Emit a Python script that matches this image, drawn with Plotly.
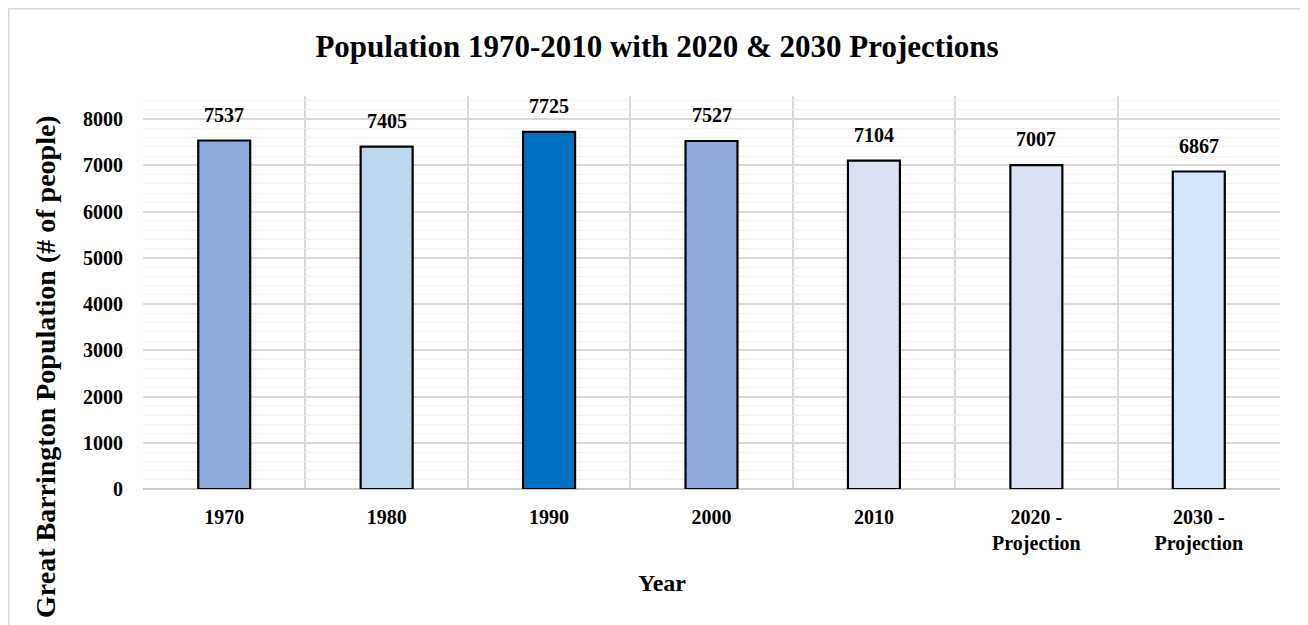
import plotly.graph_objects as go

categories = ["1970", "1980", "1990", "2000", "2010", "2020 -<br>Projection", "2030 -<br>Projection"]
population = [7537, 7405, 7725, 7527, 7104, 7007, 6867]
bar_colors = ["#8EA9DB", "#BDD7EE", "#0070C0", "#8EA9DB", "#D9E1F2", "#D9E1F2", "#D7E7FB"]
y_ticks = [0, 1000, 2000, 3000, 4000, 5000, 6000, 7000, 8000]

# page has an 8px body margin, so the figure is drawn 8px in from the window edge
OFF = 8
W, H = 1308 - OFF, 625 - OFF
L, R, T, B = 143 - OFF, 1308 - 1280, 96 - OFF, 625 - 489
PW = W - L - R
PH = H - T - B

def px_x(p):  # screen pixel -> paper x
    return (p - OFF - L) / PW

def px_y(p):  # screen pixel -> paper y
    return (H - B - (p - OFF)) / PH

FONT = "Liberation Serif"

fig = go.Figure()
fig.add_trace(go.Bar(
    x=list(range(len(categories))), y=population,
    marker=dict(color=bar_colors, line=dict(color="#000000", width=2.2)),
    width=0.32,
    hoverinfo="y",
))

for i, v in enumerate(population):
    fig.add_annotation(x=i, y=v, text=f"<b>{v}</b>", showarrow=False,
                       yshift=26, yanchor="middle", xanchor="center",
                       font=dict(family=FONT, size=20, color="#000000"))

fig.add_annotation(xref="paper", yref="paper", x=px_x(45), y=px_y(367),
                   text="<b>Great Barrington Population (# of people)</b>",
                   textangle=-90, showarrow=False, xanchor="center", yanchor="middle",
                   font=dict(family=FONT, size=28, color="#000000"))
fig.add_annotation(xref="paper", yref="paper", x=px_x(662), y=px_y(583),
                   text="<b>Year</b>", showarrow=False, xanchor="center", yanchor="middle",
                   font=dict(family=FONT, size=24, color="#000000"))

# outer chart frame
fig.add_shape(type="rect", xref="paper", yref="paper",
              x0=px_x(8.8), x1=px_x(1330), y0=px_y(660), y1=px_y(8.8),
              line=dict(color="#D9D9D9", width=1.5), fillcolor="rgba(0,0,0,0)", layer="below")

fig.update_layout(
    width=W, height=H,
    margin=dict(l=L, r=R, t=T, b=B),
    paper_bgcolor="#FFFFFF", plot_bgcolor="#FFFFFF",
    showlegend=False,
    title=dict(text="<b>Population 1970-2010 with 2020 &amp; 2030 Projections</b>",
               x=(657 - OFF) / W, xanchor="center", y=1 - (46 - OFF) / H, yanchor="middle",
               font=dict(family=FONT, size=31, color="#000000")),
    xaxis=dict(range=[-0.5, len(categories) - 0.5],
               tickvals=list(range(len(categories))),
               ticktext=[f"<b>{c}</b>" for c in categories],
               showgrid=False, zeroline=False,
               minor=dict(tickvals=[i - 0.5 for i in range(len(categories) + 1)],
                          showgrid=True, gridcolor="#D9D9D9", gridwidth=1.5),
               ticks="outside", ticklen=10, tickcolor="rgba(0,0,0,0)",
               tickfont=dict(family=FONT, size=20, color="#000000"),
               showline=False),
    yaxis=dict(range=[0, 8500], tickvals=y_ticks, ticktext=[f"<b>{t}</b>" for t in y_ticks],
               showgrid=True, gridcolor="#D9D9D9", gridwidth=1.5,
               minor=dict(dtick=200, showgrid=True, gridcolor="#F0F0F0", gridwidth=1),
               zeroline=True, zerolinecolor="#C8C8C8", zerolinewidth=1.5,
               ticks="outside", ticklen=15, tickcolor="rgba(0,0,0,0)",
               tickfont=dict(family=FONT, size=20, color="#000000")),
)

fig.write_html("out.html")
